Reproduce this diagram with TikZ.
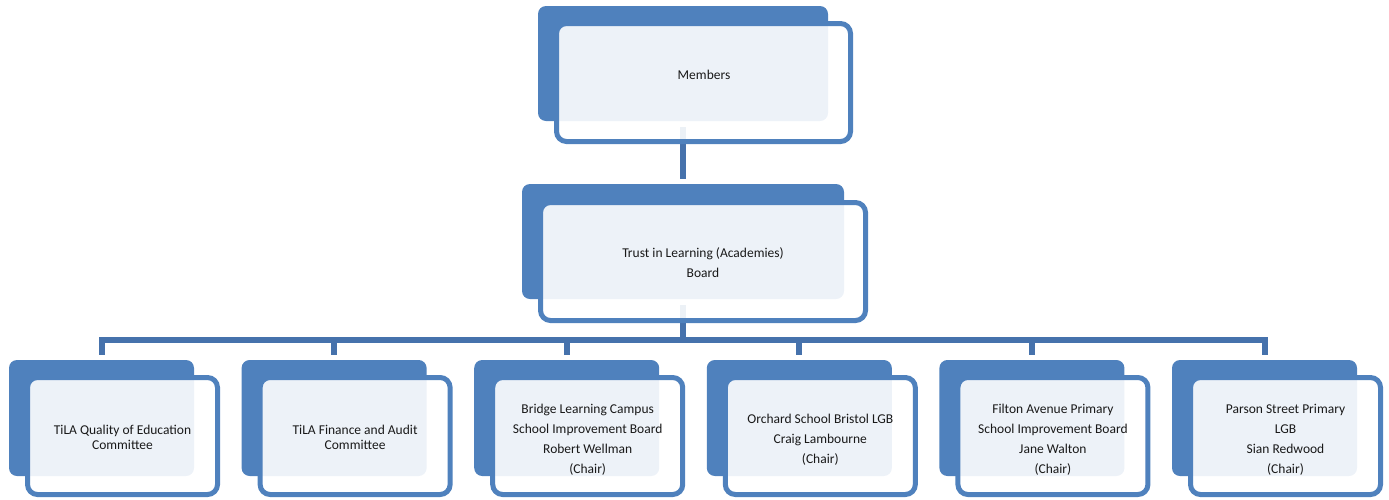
\documentclass[tikz,border=0pt]{standalone}
\usepackage{fontspec}
\setmainfont{Carlito}
\usepackage{tikz}
\usepackage{xcolor}
\definecolor{tilablue}{RGB}{79, 129, 189}
\definecolor{tilaline}{RGB}{70, 114, 172}

\begin{document}
\begin{tikzpicture}[x=1pt, y=1pt,
    backbox/.style={fill=tilablue, rounded corners=8pt, inner sep=0pt},
    frontbox/.style={draw=tilablue, line width=5pt, fill=white, fill opacity=0.9,
                     rounded corners=10pt, inner sep=0pt},
    txt/.style={align=center, inner sep=0pt, text=black!90, yshift=-1.5pt,
                font={\fontsize{13.5}{20}\selectfont}},
    conn/.style={draw=tilaline, line width=6pt, line join=miter,
                 shorten <=6pt, shorten >=5pt}]
    \useasboundingbox (0,0) rectangle (1389,-499);

    % Members
    \node[backbox, minimum width=290pt, minimum height=115pt] (mback) at (683,-63.5) {};
    % Board
    \node[backbox, minimum width=322pt, minimum height=115pt] (bback) at (683,-241.5) {};
    % Committees and schools
    \foreach \i in {0,...,5}
        \node[backbox, minimum width=185pt, minimum height=116pt] (c\i back)
            at (101.5+232.6*\i,-418) {};

    % Connectors
    \draw[conn] (mback.south) -- (bback.north);
    \foreach \i in {0,...,5}
        \draw[conn] (bback.south) -- ++(0,-41) -| (c\i back.north);

    % Front frames
    \node[frontbox, minimum width=294pt, minimum height=118pt] (mfront) at (703.5,-82.5) {};
    \node[frontbox, minimum width=325pt, minimum height=118pt] (bfront) at (703,-261.5) {};
    \foreach \i in {0,...,5}
        \node[frontbox, minimum width=190pt, minimum height=117pt] (c\i front)
            at (122.5+232.6*\i,-436) {};

    % Labels
    \node[txt] (mtext) at (704,-73) {Members};
    \node[txt] (btext) at (bfront.center) {Trust in Learning (Academies)\\Board};
    \node[txt, font={\fontsize{13.5}{15}\selectfont}] (c0text) at (c0front.center)
        {TiLA Quality of Education\\Committee};
    \node[txt, font={\fontsize{13.5}{15}\selectfont}] (c1text) at (c1front.center)
        {TiLA Finance and Audit\\Committee};
    \node[txt, yshift=-2.5pt] (c2text) at (c2front.center)
        {Bridge Learning Campus\\School Improvement Board\\Robert Wellman\\(Chair)};
    \node[txt, yshift=-2.5pt] (c3text) at (c3front.center)
        {Orchard School Bristol LGB\\Craig Lambourne\\(Chair)};
    \node[txt, yshift=-2.5pt] (c4text) at (c4front.center)
        {Filton Avenue Primary\\School Improvement Board\\Jane Walton\\(Chair)};
    \node[txt, yshift=-2.5pt] (c5text) at (c5front.center)
        {Parson Street Primary\\LGB\\Sian Redwood\\(Chair)};
\end{tikzpicture}
\end{document}
